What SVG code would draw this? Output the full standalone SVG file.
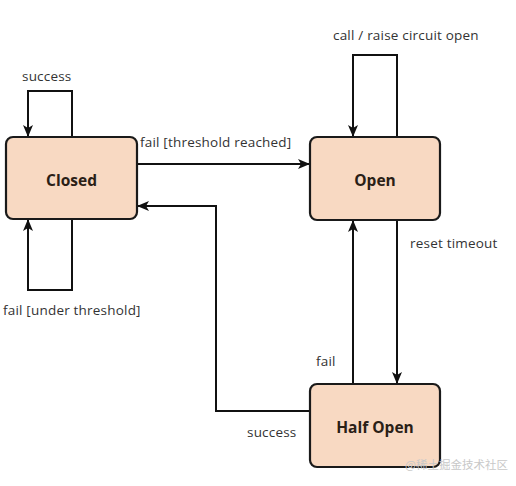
<svg xmlns="http://www.w3.org/2000/svg" width="516" height="486" viewBox="0 0 516 486">
<style>
.node rect{fill:#f8d9c2;stroke:#1a1a1a;stroke-width:2.2}
.node text{font-family:"Open Sans","DejaVu Sans",sans-serif;font-weight:bold;font-size:15.5px;fill:#2a2016;text-anchor:middle}
.edges path{fill:none;stroke:#111;stroke-width:2}
.lbl{font-family:"Open Sans","DejaVu Sans",sans-serif;font-size:13.5px;letter-spacing:0.2px;fill:#333}
</style>
<defs>
<marker id="ah" viewBox="0 0 12 10" refX="11" refY="5" markerWidth="12" markerHeight="10" markerUnits="userSpaceOnUse" orient="auto">
<path d="M0,0 L12,5 L0,10 L3,5 Z" fill="#111"/>
</marker>
</defs>
<rect width="516" height="486" fill="#fff"/>
<g class="edges">
<path d="M72,137 V91 H28 V136" marker-end="url(#ah)"/>
<path d="M72,219 V290 H28 V220" marker-end="url(#ah)"/>
<path d="M397,137 V55 H353 V136" marker-end="url(#ah)"/>
<path d="M137,164 H309" marker-end="url(#ah)"/>
<path d="M397,220 V383" marker-end="url(#ah)"/>
<path d="M353,384 V221" marker-end="url(#ah)"/>
<path d="M310,411 H216 V206 H138" marker-end="url(#ah)"/>
</g>
<g id="closed" class="node"><rect x="6" y="137" width="131" height="82" rx="7"/><text x="71.5" y="186">Closed</text></g>
<g id="open" class="node"><rect x="310" y="137" width="130" height="83" rx="7"/><text x="375" y="186">Open</text></g>
<g id="halfopen" class="node"><rect x="310" y="384" width="130" height="83" rx="7"/><text x="375" y="433">Half Open</text></g>
<g id="labels">
<text class="lbl" x="22" y="81">success</text>
<text class="lbl" x="3" y="315">fail [under threshold]</text>
<text class="lbl" x="333" y="40">call / raise circuit open</text>
<text class="lbl" x="140" y="147">fail [threshold reached]</text>
<text class="lbl" x="410" y="248">reset timeout</text>
<text class="lbl" x="316" y="366">fail</text>
<text class="lbl" x="247" y="437">success</text>
<text x="405" y="469" style="font-family:'Noto Sans CJK SC',sans-serif;font-size:11.5px;fill:#c8c8c8">@稀土掘金技术社区</text>
</g>
</svg>
